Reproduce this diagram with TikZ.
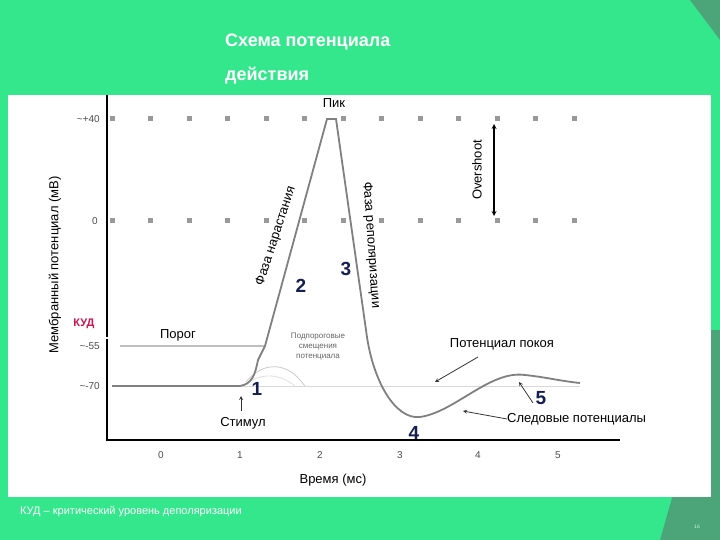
\documentclass[tikz,border=0pt]{standalone}
\usepackage{fontspec}
\setmainfont{Liberation Sans}
\begin{document}
\begin{tikzpicture}[x=1pt,y=-1pt,
 lbl/.style={inner sep=0pt,font=\fontsize{13}{14}\selectfont},
 tk/.style={inner sep=0pt,font=\fontsize{10}{11}\selectfont,text=black!70},
 num/.style={inner sep=0pt,font=\bfseries\fontsize{19}{19}\selectfont,text={rgb,255:red,20;green,30;blue,80}},
 curve/.style={draw=black!50,line width=1.8pt},
 pt/.style={->,>=stealth,black!80,line width=0.8pt}]
\definecolor{bg}{RGB}{52,230,140}
\definecolor{dg}{RGB}{75,165,120}
\fill[bg] (0,0) rectangle (720,540);
\fill[dg] (690,0) -- (720,0) -- (720,40) -- cycle;
\fill[dg] (720,330) -- (660,540) -- (720,540) -- cycle;
\fill[white] (8,95) rectangle (711,497);
\node[anchor=west,inner sep=0pt,text=white,font=\bfseries\fontsize{18}{20}\selectfont] (t1) at (225,42) {Схема потенциала};
\node[anchor=west,inner sep=0pt,text=white,font=\bfseries\fontsize{18}{20}\selectfont] (t2) at (225,76) {действия};
% grid dots
\foreach \x in {112,150.5,...,575} {\fill[black!40] (\x-2.5,116.5) rectangle (\x+2.5,121.5); \fill[black!40] (\x-2.5,218.5) rectangle (\x+2.5,223.5);}
% axes
\draw[line width=1.6pt] (107,95) -- (107,440) -- (620,440);
\foreach \t/\x in {0/161,1/240,2/320,3/400,4/478,5/558} \node[tk] at (\x,455) {\t};
\node[tk,anchor=east] at (100,119) {\textasciitilde+40};
\node[tk,anchor=east] at (98,221) {0};
\node[tk,anchor=east] at (100,346) {\textasciitilde-55};
\node[tk,anchor=east] at (100,386) {\textasciitilde-70};
\node[inner sep=0pt,font=\bfseries\fontsize{11}{12}\selectfont,text={rgb,255:red,200;green,20;blue,80}] at (84,324) {КУД};
\draw[white,line width=2pt] (103,338) -- (110,338);
\node[lbl,rotate=90] at (55,265) {Мембранный потенциал (мВ)};
\node[lbl] at (333,480) {Время (мс)};
% reference lines
\draw[black!25,line width=1.2pt] (120,346) -- (265,346);
\draw[black!15,line width=1pt] (240,386) -- (580,386);
\draw[black!20,line width=0.8pt] (246,382) .. controls (262,362) and (285,362) .. (300,380) -- (305,386);
\draw[black!12,line width=0.8pt] (246,384) .. controls (262,372) and (280,374) .. (295,386);
% main curve
\draw[curve] (112,386) -- (240,386) .. controls (252,384) and (255,375) .. (258,360) -- (265,346) -- (327,119) -- (336,119)
 -- (366,330) .. controls (372,380) and (395,420) .. (420,417)
 .. controls (455,412) and (490,370) .. (525,375) .. controls (545,377) and (560,381) .. (580,383);
% labels
\node[lbl] at (334,103) {Пик};
\node[lbl,rotate=72] at (276,236) {Фаза нарастания};
\node[lbl,rotate=-86] at (371,245) {Фаза реполяризации};
\node[lbl,rotate=90] at (477,170) {Overshoot};
\draw[<->,>=stealth,line width=1.2pt] (494,124) -- (494,216);
\node[lbl] at (178,335) {Порог};
\node[inner sep=0pt,align=center,font=\fontsize{8}{10}\selectfont,text=black!60] at (318,347) {Подпороговые\\смещения\\потенциала};
\node[num] (n1) at (257,389) {1};
\node[num] (n2) at (301,286) {2};
\node[num] (n3) at (346,269) {3};
\node[num] (n4) at (414,433) {4};
\node[num] (n5) at (541,398) {5};
\node[lbl] (stim) at (243,423) {Стимул};
\coordinate (sa) at (241,396);
\draw[pt] (241,411) -- (sa);
\node[lbl] (pk) at (502,344) {Потенциал покоя};
\coordinate (pka) at (435,382);
\draw[pt] (478,357) -- (pka);
\coordinate (a5) at (519,382);
\draw[pt] (533,403) -- (a5);
\node[lbl,anchor=west] (sl) at (507,419) {Следовые потенциалы};
\coordinate (asl) at (463,411);
\draw[pt] (sl.west) -- (asl);
\fill[bg] (711,95) rectangle (720,497);
\fill[dg] (711,330) rectangle (720,497);
\node[anchor=west,inner sep=0pt,text=white,font=\fontsize{11}{12}\selectfont] at (20,512) {КУД – критический уровень деполяризации};
\node[inner sep=0pt,text=white!70!bg,font=\fontsize{5}{6}\selectfont] at (697,527) {16};
\end{tikzpicture}
\end{document}
